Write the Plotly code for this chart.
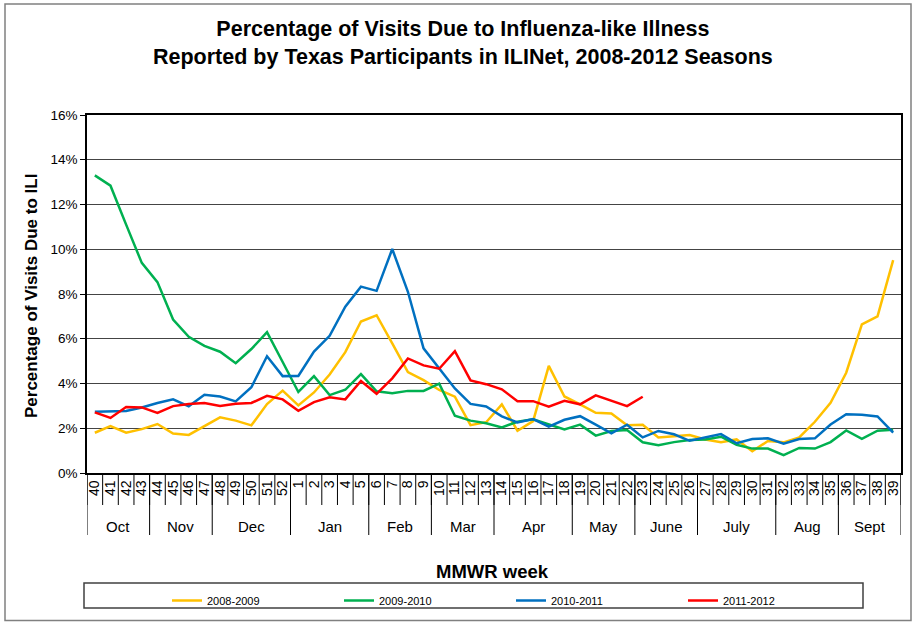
import plotly.graph_objects as go

weeks = ["40","41","42","43","44","45","46","47","48","49","50","51","52",
         "1","2","3","4","5","6","7","8","9","10","11","12","13","14","15","16","17","18",
         "19","20","21","22","23","24","25","26","27","28","29","30","31","32","33","34","35",
         "36","37","38","39"]
months = ["Oct","Nov","Dec","Jan","Feb","Mar","Apr","May","June","July","Aug","Sept"]
month_weeks = [4,4,5,5,4,4,5,4,4,5,4,4]

s2008 = [1.80, 2.10, 1.80, 1.96, 2.19, 1.76, 1.70, 2.10, 2.49, 2.34, 2.13, 3.08, 3.68,
         3.02, 3.60, 4.40, 5.40, 6.77, 7.05, 5.79, 4.51, 4.15, 3.71, 3.41, 2.14, 2.27,
         3.07, 1.89, 2.32, 4.79, 3.42, 3.07, 2.69, 2.66, 2.13, 2.16, 1.59, 1.64, 1.70,
         1.50, 1.37, 1.50, 0.97, 1.43, 1.37, 1.59, 2.29, 3.14, 4.48, 6.64, 7.00, 9.51]
s2009 = [13.30, 12.84, 11.10, 9.39, 8.53, 6.86, 6.09, 5.68, 5.42, 4.91, 5.54, 6.29, 4.96,
         3.62, 4.33, 3.48, 3.72, 4.42, 3.65, 3.57, 3.67, 3.67, 3.99, 2.56, 2.34, 2.22,
         2.04, 2.29, 2.40, 2.17, 1.95, 2.16, 1.67, 1.88, 1.92, 1.37, 1.24, 1.38, 1.47,
         1.50, 1.62, 1.26, 1.09, 1.09, 0.80, 1.12, 1.09, 1.38, 1.90, 1.53, 1.89, 1.93]
s2010 = [2.74, 2.75, 2.77, 2.93, 3.13, 3.29, 2.98, 3.50, 3.42, 3.20, 3.83, 5.22, 4.33,
         4.34, 5.43, 6.13, 7.43, 8.33, 8.14, 10.01, 8.10, 5.57, 4.67, 3.78, 3.09, 2.97,
         2.53, 2.26, 2.41, 2.07, 2.38, 2.54, 2.16, 1.77, 2.16, 1.59, 1.88, 1.73, 1.44,
         1.59, 1.74, 1.33, 1.52, 1.55, 1.31, 1.52, 1.55, 2.17, 2.63, 2.60, 2.53, 1.80]
s2011 = [2.71, 2.46, 2.95, 2.93, 2.69, 2.99, 3.08, 3.13, 2.99, 3.09, 3.13, 3.45, 3.29,
         2.78, 3.17, 3.38, 3.29, 4.11, 3.54, 4.23, 5.12, 4.81, 4.66, 5.45, 4.14, 3.97,
         3.74, 3.21, 3.21, 2.96, 3.23, 3.07, 3.47, 3.24, 2.99, 3.41]

series = [("2008-2009", s2008, "#FFC000"),
          ("2009-2010", s2009, "#00B050"),
          ("2010-2011", s2010, "#0070C0"),
          ("2011-2012", s2011, "#FF0000")]

FONT = "Arial, 'Liberation Sans', sans-serif"
W, H = 916, 625
L, R, T, B = 87, 15, 115, 152
PW, PH = W - L - R, H - T - B

def px(xp):  # pixel x -> paper
    return (xp - L) / PW

def py(yp):  # pixel y -> paper
    return (H - B - yp) / PH

fig = go.Figure()
for name, vals, col in series:
    fig.add_trace(go.Scatter(x=weeks[:len(vals)], y=vals, name=name, mode="lines",
                             line=dict(color=col, width=2.5)))

shapes = []
# week separators
for i in range(len(weeks) + 1):
    shapes.append(dict(type="line", xref="x", yref="paper", x0=i - 0.5, x1=i - 0.5,
                       y0=0, y1=py(505), line=dict(color="#000", width=1)))
# month separators
pos = 0
bounds = [0]
for n in month_weeks:
    pos += n
    bounds.append(pos)
for b in bounds:
    shapes.append(dict(type="line", xref="x", yref="paper", x0=b - 0.5, x1=b - 0.5,
                       y0=0, y1=py(535), line=dict(color="#000", width=1)))
# legend box
shapes.append(dict(type="rect", xref="paper", yref="paper", x0=px(84), x1=px(863),
                   y0=py(583), y1=py(608), line=dict(color="#404040", width=1.5)))
# outer frame
shapes.append(dict(type="rect", xref="paper", yref="paper", x0=px(5), x1=px(911),
                   y0=py(4), y1=py(620.5), line=dict(color="#808080", width=1.5)))

annotations = []
for k, m in enumerate(months):
    c = (bounds[k] + bounds[k + 1] - 1) / 2
    annotations.append(dict(text=m, xref="x", yref="paper", x=c, y=py(526),
                            showarrow=False, xanchor="center", yanchor="middle",
                            font=dict(family=FONT, size=15, color="#000")))
annotations.append(dict(text="<b>Percentage of Visits Due to Influenza-like Illness<br>"
                             "Reported by Texas Participants in ILINet, 2008-2012 Seasons</b>",
                        xref="paper", yref="paper", x=px(463), y=py(43), showarrow=False,
                        xanchor="center", yanchor="middle",
                        font=dict(family=FONT, size=21.5, color="#000")))
annotations.append(dict(text="<b>Percentage of Visits Due to ILI</b>", textangle=-90,
                        xref="paper", yref="paper", x=px(31), y=py(296), showarrow=False,
                        xanchor="center", yanchor="middle",
                        font=dict(family=FONT, size=17, color="#000")))
annotations.append(dict(text="<b>MMWR week</b>", xref="paper", yref="paper",
                        x=px(492), y=py(571), showarrow=False,
                        xanchor="center", yanchor="middle",
                        font=dict(family=FONT, size=18.5, color="#000")))

fig.update_layout(
    width=W, height=H,
    margin=dict(l=L, r=R, t=T, b=B, autoexpand=False),
    paper_bgcolor="white", plot_bgcolor="white",
    font=dict(family=FONT, color="#000"),
    shapes=shapes, annotations=annotations,
    legend=dict(orientation="h", x=px(167), y=py(586), xanchor="left", yanchor="top",
                font=dict(family=FONT, size=11, color="#000"),
                entrywidth=127, entrywidthmode="pixels",
                bgcolor="rgba(0,0,0,0)", borderwidth=0, tracegroupgap=0),
    xaxis=dict(type="category", categoryorder="array", categoryarray=weeks,
               range=[-0.5, len(weeks) - 0.5], tickmode="array", tickvals=weeks,
               ticktext=weeks, tickangle=-90, ticks="", showgrid=False,
               showline=True, linecolor="#000", linewidth=1.5, mirror=True,
               tickfont=dict(family=FONT, size=14, color="#000"), zeroline=False),
    yaxis=dict(range=[0, 16], dtick=2, ticksuffix="%", ticks="outside", ticklen=5,
               tickcolor="#000", showgrid=True, gridcolor="#444", gridwidth=1,
               showline=True, linecolor="#000", linewidth=1.5, mirror=True,
               tickfont=dict(family=FONT, size=13.5, color="#000"), zeroline=False),
)

fig.write_html("out.html", config={"displayModeBar": False},
               post_script="document.body.style.margin='0';")
